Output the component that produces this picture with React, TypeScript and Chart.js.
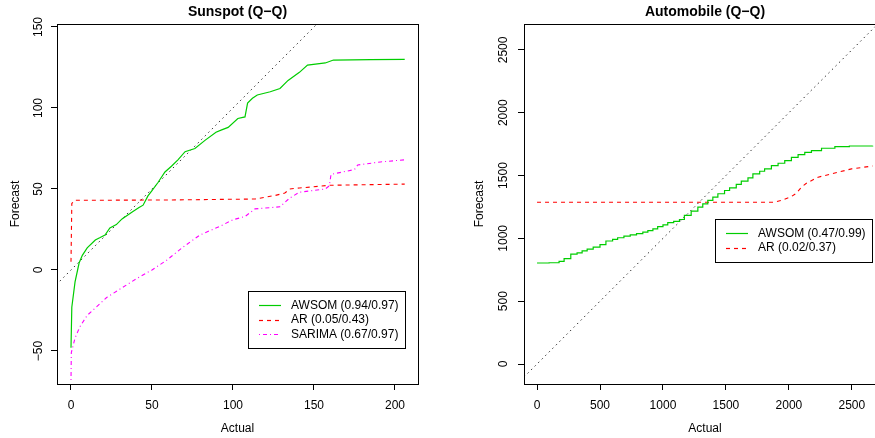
import React, { useEffect, useRef } from "react";
import { Chart, registerables } from "chart.js";

Chart.register(...registerables);

const FONT = "'Liberation Sans', Arial, Helvetica, sans-serif";
Chart.defaults.font.family = FONT;
Chart.defaults.color = "#000";

// ---------------- Sunspot (left panel) ----------------
const sunTitle = "Sunspot (Q\u2212Q)";
const sunXTicks = [0, 50, 100, 150, 200];
const sunYTicks = [-50, 0, 50, 100, 150];
const sunLabels = ["AWSOM (0.94/0.97)", "AR (0.05/0.43)", "SARIMA (0.67/0.97)"];
const sunDiagonal = [-20, 300];

const sunAwsomActual = [0, 0.5, 2.5, 5, 7, 10, 15, 18, 21, 24, 28, 31.5, 38, 42, 44.5, 47.5, 50, 53.7, 58, 62, 66, 70.4, 76.5, 82.7, 89.5, 93, 97, 103, 107.4, 109, 112, 115, 123, 129, 134, 141, 146, 157, 162, 185, 206];
const sunAwsomForecast = [-48, -23, -7.4, 4.3, 9, 13.6, 18.5, 20, 21.6, 26, 28, 31.5, 36, 38.5, 40, 45.7, 49, 54, 60.5, 64, 68, 73, 75, 80, 85, 86.5, 88, 93.5, 94.5, 103, 106, 108, 110, 112, 117, 122, 126.5, 127.8, 129.6, 129.9, 130];

const sunArActual = [0, 0.5, 2, 60, 113.6, 126, 132, 135, 141, 160, 206];
const sunArForecast = [5, 41, 43, 43.2, 43.8, 46, 47.5, 50, 50.6, 52.3, 53];

const sunSarimaActual = [0, 0.2, 2.5, 5.5, 10, 15.5, 22, 31.5, 41, 50, 59, 69, 79.6, 92, 100, 107.4, 113.6, 129, 135, 141, 157, 159.5, 160.5, 175, 177, 191, 206];
const sunSarimaForecast = [-68, -51, -42, -35, -28, -23, -17, -11, -5, 0, 6, 14, 21.6, 27, 31, 33, 37.7, 39, 44.4, 48, 50, 52, 59, 62, 64.8, 66.7, 68];

// ---------------- Automobile (right panel) ----------------
const autoTitle = "Automobile (Q\u2212Q)";
const autoXTicks = [0, 500, 1000, 1500, 2000, 2500];
const autoYTicks = [0, 500, 1000, 1500, 2000, 2500];
const autoLabels = ["AWSOM (0.47/0.99)", "AR (0.02/0.37)"];
const autoDiagonal = [-300, 3000];

const autoAwsomActual = [0, 96, 175, 215, 268, 318, 358, 398, 446, 500, 547, 600, 640, 690, 740, 790, 840, 880, 920, 958, 1000, 1038, 1085, 1131, 1170, 1224, 1277, 1316, 1356, 1396, 1436, 1489, 1529, 1582, 1622, 1675, 1714, 1768, 1807, 1861, 1914, 1967, 2020, 2073, 2126, 2179, 2259, 2365, 2480, 2665];
const autoAwsomForecast = [804, 806, 817, 839, 875, 885, 900, 915, 931, 950, 979, 992, 1005, 1018, 1028, 1038, 1050, 1061, 1075, 1093, 1108, 1125, 1135, 1150, 1183, 1217, 1249, 1275, 1302, 1328, 1355, 1381, 1402, 1429, 1455, 1482, 1513, 1534, 1553, 1579, 1598, 1619, 1645, 1667, 1685, 1698, 1717, 1730, 1735, 1737];

const autoArActual = [0, 1887, 1940, 2020, 2060, 2099, 2139, 2232, 2365, 2497, 2665];
const autoArForecast = [1288, 1288, 1302, 1333, 1360, 1407, 1439, 1487, 1520, 1553, 1576];

// ---------------- helpers ----------------
const pts = (xs: number[], ys: number[]) => xs.map((x, i) => ({ x, y: ys[i] }));
const fmt = (v: number) => (v < 0 ? "\u2212" + Math.abs(v) : String(v));

const GREEN = "#00cd00";
const RED = "#ff0000";
const MAGENTA = "#ff00ff";

const boxPlugin = {
  id: "rbox",
  afterDatasetsDraw(chart: any) {
    const { ctx, chartArea: ca } = chart;
    ctx.save();
    ctx.strokeStyle = "#000";
    ctx.lineWidth = 1;
    ctx.setLineDash([]);
    const l = Math.floor(ca.left) + 0.5;
    const t = Math.floor(ca.top) + 0.5;
    const r = Math.floor(ca.right) + 0.5;
    const b = Math.floor(ca.bottom) + 0.5;
    ctx.strokeRect(l, t, r - l, b - t);
    ctx.restore();
  },
};

const legendPlugin = {
  id: "rlegend",
  afterDraw(chart: any, _args: any, opts: any) {
    const { ctx, chartArea: ca } = chart;
    const items = chart.data.datasets.filter((d: any) => d.inLegend);
    ctx.save();
    ctx.font = `12px ${FONT}`;
    const textW = Math.max(...items.map((d: any) => ctx.measureText(d.label).width));
    const padL = 11, sample = 22, gap = 10, padR = 6, rowH = 14.5, padV = 14;
    const w = Math.round(padL + sample + gap + textW + padR);
    const h = Math.round(padV * 2 + (items.length - 1) * rowH);
    const x0 = Math.round(ca.right - opts.right - w);
    const y0 = Math.round(ca.top + opts.top);
    ctx.strokeStyle = "#000";
    ctx.lineWidth = 1;
    ctx.setLineDash([]);
    ctx.strokeRect(x0 + 0.5, y0 + 0.5, w, h);
    items.forEach((d: any, i: number) => {
      const y = y0 + padV + i * rowH;
      ctx.save();
      ctx.lineWidth = 1.2;
      ctx.strokeStyle = d.legendColor;
      ctx.setLineDash(d.borderDash ? d.borderDash : []);
      ctx.beginPath();
      ctx.moveTo(x0 + padL, Math.round(y) + 0.5);
      ctx.lineTo(x0 + padL + sample, Math.round(y) + 0.5);
      ctx.stroke();
      ctx.restore();
      ctx.fillStyle = "#000";
      ctx.textAlign = "left";
      ctx.textBaseline = "middle";
      ctx.fillText(d.label, x0 + padL + sample + gap, y + 0.5);
    });
    ctx.restore();
  },
};

type PanelCfg = {
  title: string;
  datasets: any[];
  xMin: number;
  xMax: number;
  yMin: number;
  yMax: number;
  xTicks: number[];
  yTicks: number[];
  yAxisWidth: number;
  yTitlePad: number;
  yTickPad: number;
  padRight: number;
  legendRight: number;
  legendTop: number;
};

function buildConfig(c: PanelCfg): any {
  const tickFont = { family: FONT, size: 12 };
  const grid = { drawOnChartArea: false, drawTicks: true, tickLength: 6, color: "#000", lineWidth: 1 };
  return {
    type: "line",
    data: { datasets: c.datasets },
    plugins: [boxPlugin, legendPlugin],
    options: {
      responsive: false,
      animation: false,
      devicePixelRatio: 1,
      layout: { padding: { left: 0, top: 0, bottom: 0, right: c.padRight } },
      elements: { point: { radius: 0, hoverRadius: 0 }, line: { tension: 0, borderWidth: 1 } },
      plugins: {
        legend: { display: false },
        tooltip: { enabled: false },
        title: {
          display: true,
          text: c.title,
          fullSize: false,
          color: "#000",
          font: { family: FONT, size: 14, weight: "bold" },
          padding: { top: 4, bottom: 3.2 },
        },
        rlegend: { right: c.legendRight, top: c.legendTop },
      },
      scales: {
        x: {
          type: "linear",
          min: c.xMin,
          max: c.xMax,
          afterBuildTicks: (s: any) => {
            s.ticks = c.xTicks.map((v) => ({ value: v }));
          },
          afterFit: (s: any) => {
            s.height = 54;
          },
          grid,
          border: { display: false },
          ticks: {
            autoSkip: false,
            minRotation: 0,
            maxRotation: 0,
            padding: 8,
            color: "#000",
            font: tickFont,
            callback: (v: number) => fmt(v),
          },
          title: {
            display: true,
            text: "Actual",
            color: "#000",
            font: tickFont,
            padding: { top: 0, bottom: 2 },
          },
        },
        y: {
          type: "linear",
          min: c.yMin,
          max: c.yMax,
          afterBuildTicks: (s: any) => {
            s.ticks = c.yTicks.map((v) => ({ value: v }));
          },
          afterFit: (s: any) => {
            s.width = c.yAxisWidth;
          },
          grid,
          border: { display: false },
          ticks: {
            autoSkip: false,
            minRotation: 90,
            maxRotation: 90,
            crossAlign: "center",
            padding: c.yTickPad,
            color: "#000",
            font: tickFont,
            callback: (v: number) => fmt(v),
          },
          title: {
            display: true,
            text: "Forecast",
            color: "#000",
            font: tickFont,
            padding: { top: c.yTitlePad, bottom: 0 },
          },
        },
      },
    },
  };
}

const sunCfg: PanelCfg = {
  title: sunTitle,
  datasets: [
    { label: sunLabels[0], inLegend: true, legendColor: GREEN, data: pts(sunAwsomActual, sunAwsomForecast), borderColor: GREEN, borderWidth: 1.2 },
    { label: sunLabels[1], inLegend: true, legendColor: RED, data: pts(sunArActual, sunArForecast), borderColor: RED, borderDash: [4, 4], borderWidth: 1.1 },
    { label: sunLabels[2], inLegend: true, legendColor: MAGENTA, data: pts(sunSarimaActual, sunSarimaForecast), borderColor: MAGENTA, borderDash: [1, 3, 4, 3], borderWidth: 1.1 },
    { label: "diagonal", data: pts(sunDiagonal, sunDiagonal), borderColor: "#333", borderDash: [1.5, 3.5], borderWidth: 1 },
  ],
  xMin: -8.64,
  xMax: 214.2,
  yMin: -70.4,
  yMax: 151.85,
  xTicks: sunXTicks,
  yTicks: sunYTicks,
  yAxisWidth: 57,
  yTitlePad: 8.5,
  yTickPad: 2.3,
  padRight: 19,
  legendRight: 13,
  legendTop: 267,
};

const autoCfg: PanelCfg = {
  title: autoTitle,
  datasets: [
    { label: autoLabels[0], inLegend: true, legendColor: GREEN, data: pts(autoAwsomActual, autoAwsomForecast), borderColor: GREEN, borderWidth: 1.2, stepped: true },
    { label: autoLabels[1], inLegend: true, legendColor: RED, data: pts(autoArActual, autoArForecast), borderColor: RED, borderDash: [4, 4], borderWidth: 1.1 },
    { label: "diagonal", data: pts(autoDiagonal, autoDiagonal), borderColor: "#333", borderDash: [1.5, 3.5], borderWidth: 1 },
  ],
  xMin: -103.5,
  xMax: 2771,
  yMin: -159,
  yMax: 2706,
  xTicks: autoXTicks,
  yTicks: autoYTicks,
  yAxisWidth: 87,
  yTitlePad: 35.8,
  yTickPad: 0.65,
  padRight: 2,
  legendRight: 14,
  legendTop: 195,
};

function Panel({ cfg, left, width }: { cfg: PanelCfg; left: number; width: number }) {
  const ref = useRef<HTMLCanvasElement>(null);
  useEffect(() => {
    const chart = new Chart(ref.current as HTMLCanvasElement, buildConfig(cfg));
    return () => chart.destroy();
  }, [cfg]);
  return (
    <canvas
      ref={ref}
      width={width}
      height={438}
      style={{ position: "absolute", left, top: 0, width, height: 438, display: "block" }}
    />
  );
}

export default function App() {
  return (
    <div
      style={{
        position: "fixed",
        left: 0,
        top: 0,
        width: 875,
        height: 438,
        overflow: "hidden",
        background: "#fff",
      }}
    >
      <Panel cfg={sunCfg} left={0} width={437} />
      <Panel cfg={autoCfg} left={437} width={451} />
    </div>
  );
}
